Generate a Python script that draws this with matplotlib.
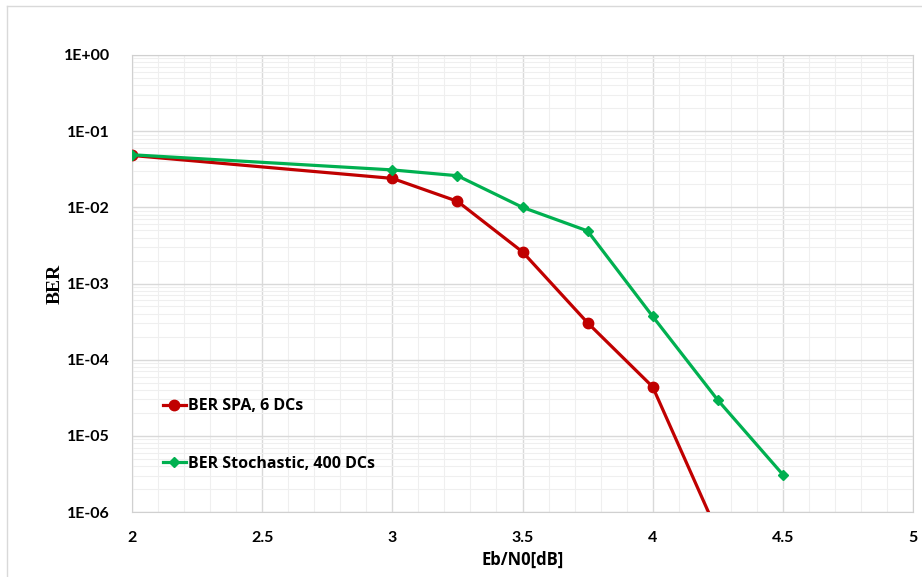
import numpy as np
import matplotlib.pyplot as plt
from matplotlib.ticker import LogLocator, MultipleLocator, FuncFormatter, NullFormatter
from matplotlib.lines import Line2D

# data
ebn0_spa = [2, 3, 3.25, 3.5, 3.75, 4, 4.25]
ber_spa = [4.8e-2, 2.4e-2, 1.2e-2, 2.6e-3, 3.05e-4, 4.4e-5, 5.3e-7]

ebn0_sto = [2, 3, 3.25, 3.5, 3.75, 4, 4.25, 4.5]
ber_sto = [4.9e-2, 3.1e-2, 2.6e-2, 1.0e-2, 4.9e-3, 3.7e-4, 2.95e-5, 3.1e-6]

plt.rcParams['font.family'] = ['Open Sans', 'DejaVu Sans']

fig = plt.figure(figsize=(9.22, 5.77), dpi=100)
# outer chart frame (only left and top edges visible)
fx, fy = 7 / 922, 1 - 6 / 577
fig.add_artist(Line2D([fx, fx], [0, fy], transform=fig.transFigure, color='#d9d9d9', linewidth=1))
fig.add_artist(Line2D([fx, 1], [fy, fy], transform=fig.transFigure, color='#d9d9d9', linewidth=1))

ax = fig.add_axes([132 / 922, 1 - 512 / 577, 781 / 922, 457 / 577])
ax.plot(ebn0_spa, ber_spa, color='#C00000', marker='o', markersize=7.5, linewidth=2.3,
        label='BER SPA, 6 DCs', zorder=3)
ax.plot(ebn0_sto, ber_sto, color='#00B050', marker='D', markersize=5.5, linewidth=2.3,
        label='BER Stochastic, 400 DCs', zorder=3)

ax.set_yscale('log')
ax.set_xlim(2, 5)
ax.set_ylim(1e-6, 1)
ax.xaxis.set_major_locator(MultipleLocator(0.5))
ax.xaxis.set_minor_locator(MultipleLocator(0.1))
ax.xaxis.set_minor_formatter(NullFormatter())
ax.yaxis.set_major_locator(LogLocator(base=10, numticks=10))
ax.yaxis.set_minor_locator(LogLocator(base=10, subs=np.arange(2, 10), numticks=20))
ax.yaxis.set_minor_formatter(NullFormatter())
ax.yaxis.set_major_formatter(FuncFormatter(lambda v, p: '1E%+03d' % int(round(np.log10(v)))))
ax.xaxis.set_major_formatter(FuncFormatter(lambda v, p: ('%g' % v)))

ax.grid(which='major', color='#d9d9d9', linewidth=1)
ax.grid(which='minor', color='#efefef', linewidth=0.8)
ax.set_axisbelow(True)
for s in ax.spines.values():
    s.set_color('#d0d0d0')
ax.tick_params(which='both', length=0)
ax.tick_params(axis='y', pad=16)
ax.tick_params(axis='x', pad=14)
for lab in ax.get_xticklabels() + ax.get_yticklabels():
    lab.set_family(['Lato', 'DejaVu Sans'])
    lab.set_fontsize(11.5)
    lab.set_fontweight('bold')

ax.set_ylabel('BER', family='Liberation Serif', fontweight='bold', fontsize=14)
ax.yaxis.set_label_coords(-0.088, 0.5)
ax.set_xlabel('Eb/N0[dB]', fontsize=12, fontweight='bold', labelpad=4)

ax.legend(loc='center left', bbox_to_anchor=(0.04, 0.168), frameon=False, borderpad=0,
          borderaxespad=0, handlelength=1.4, handletextpad=0.15, labelspacing=2.6,
          prop={'size': 11.5, 'weight': 'bold'})

fig.savefig('out.png', dpi=100)
